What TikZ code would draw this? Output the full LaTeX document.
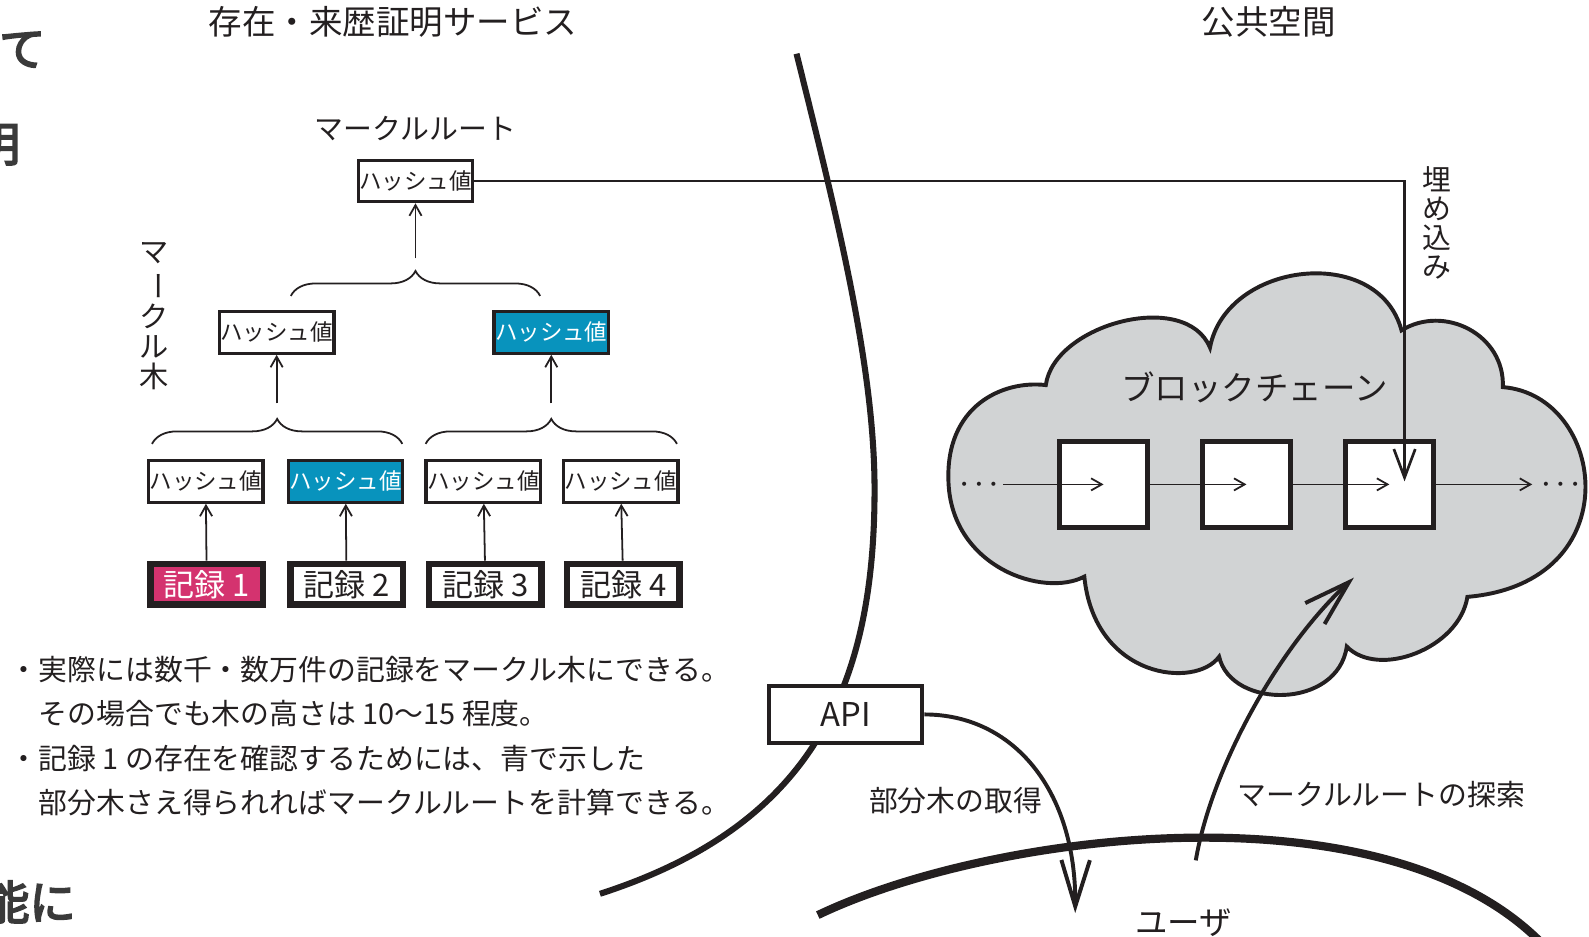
\documentclass[tikz,border=0pt]{standalone}
\usepackage{fontspec}
\usepackage{graphicx}
\setmainfont{Noto Sans CJK JP}
\newfontfamily\fragfont{Noto Sans CJK JP}[FakeBold=4]
\usetikzlibrary{arrows.meta,decorations.pathreplacing}

\definecolor{inkblack}{HTML}{231F20}
\definecolor{pathblue}{HTML}{0893BD}
\definecolor{recpink}{HTML}{D4336F}
\definecolor{cloudgray}{HTML}{D1D3D4}
\definecolor{fraggray}{HTML}{3A3A3A}

\tikzset{
  hashbox/.style={draw=inkblack, line width=0.9pt, fill=white, minimum width=1.13cm,
    minimum height=0.41cm, inner sep=0pt, font=\fontsize{6.3}{7}\selectfont},
  pathbox/.style={hashbox, fill=pathblue, text=white},
  recbox/.style={draw=inkblack, line width=1.8pt, fill=white, minimum width=1.11cm,
    minimum height=0.40cm, inner sep=0pt, font=\fontsize{8.7}{9}\selectfont},
  blockbox/.style={draw=inkblack, line width=1.5pt, fill=white, minimum width=0.87cm,
    minimum height=0.85cm, inner sep=0pt},
  apibox/.style={draw=inkblack, line width=1.2pt, fill=white, minimum width=1.51cm,
    minimum height=0.56cm, inner sep=0pt, font=\fontsize{9.2}{10}\selectfont},
  heading/.style={inner sep=0pt, font=\fontsize{9.4}{10}\selectfont},
  label/.style={inner sep=0pt, font=\fontsize{8.1}{9}\selectfont},
  vlabel/.style={inner sep=0pt, align=center, font=\fontsize{8.1}{8.2}\selectfont},
  fragtext/.style={inner sep=0pt, text=fraggray, font=\fragfont\fontsize{13}{14}\selectfont},
  dotsnode/.style={inner sep=0pt, font=\fontsize{6.6}{7}\selectfont\boldmath},
  tarrow/.style={draw=inkblack, line width=0.5pt, -{Straight Barb[length=3pt,width=3.4pt]}},
  embarrow/.style={draw=inkblack, line width=0.75pt, -{Straight Barb[length=8pt,width=6pt]}},
  bigarrow/.style={draw=inkblack, line width=1.1pt, -{Straight Barb[length=13pt,width=8pt]}},
  treebrace/.style={draw=inkblack, line width=0.5pt, decorate,
    decoration={brace, amplitude=7pt}},
}

\begin{document}
\begin{tikzpicture}[x=0.01cm, y=-0.01cm, text=inkblack]
  % Frame
  \useasboundingbox (0,0) rectangle (1568,924);

  % Page text cut off at the left edge
  \node[fragtext] (fragA) at (22,49) {て};
  \node[fragtext] (fragB) at (-3,143) {明};
  \node[fragtext] (fragC) at (29,890) {能に};

  % Headings
  \node[heading] (svc) at (388,22) {存在・来歴証明サービス};
  \node[heading] (pub) at (1252,22) {公共空間};

  % Boundary of the service
  \draw[inkblack, line width=1.7pt] (786,53) .. controls (825,210) and (863,360) .. (863,483)
    .. controls (863,680) and (800,815) .. (592,882);

  % Boundary of the user
  \draw[inkblack, line width=2.3pt] (807,903) .. controls (980,820) and (1380,770) .. (1530,940);

  % Merkle tree
  \node[label] (mrlbl) at (410,127) {マークルルート};
  \node[hashbox] (root) at (410,178.5) {ハッシュ値};
  \node[vlabel, font=\fontsize{8.2}{8.3}\selectfont] (treelbl) at (152,312)
    {マ\\\rotatebox[origin=c]{-90}{ー}\\ク\\ル\\木};

  \node[hashbox] (h1L) at (273,328) {ハッシュ値};
  \node[pathbox] (h1R) at (544,328) {ハッシュ値};

  \node[hashbox] (h0a) at (203,475) {ハッシュ値};
  \node[pathbox] (h0b) at (341,475) {ハッシュ値};
  \node[hashbox] (h0c) at (477,475) {ハッシュ値};
  \node[hashbox] (h0d) at (612.5,475) {ハッシュ値};

  \node[recbox, fill=recpink, text=white] (r1) at (204,576.5) {記録 1};
  \node[recbox] (r2) at (342,576.5) {記録 2};
  \node[recbox] (r3) at (479,576.5) {記録 3};
  \node[recbox] (r4) at (615,576.5) {記録 4};

  % Braces
  \draw[treebrace] (287,292) -- (533,292);
  \draw[treebrace] (150,438) -- (397,438);
  \draw[treebrace] (420,438) -- (668,438);
  \coordinate (tipT) at (410,255);
  \coordinate (tipL) at (273,398);
  \coordinate (tipR) at (544,398);

  % Tree arrows
  \draw[tarrow] (r1) -- (h0a);
  \draw[tarrow] (r2) -- (h0b);
  \draw[tarrow] (r3) -- (h0c);
  \draw[tarrow] (r4) -- (h0d);
  \draw[tarrow] (tipL) -- (h1L);
  \draw[tarrow] (tipR) -- (h1R);
  \draw[tarrow] (tipT) -- (root);

  % Notes
  \node[label, anchor=base west, align=left, font=\fontsize{8.1}{12.5}\selectfont] (notes) at (9,803)
    {・実際には数千・数万件の記録をマークル木にできる。\\
     \hspace*{1em}その場合でも木の高さは 10〜15 程度。\\
     ・記録 1 の存在を確認するためには、青で示した\\
     \hspace*{1em}部分木さえ得られればマークルルートを計算できる。};

  % Blockchain cloud
  \draw[inkblack, line width=1.1pt, fill=cloudgray]
    (1032,380) .. controls (1040,320) and (1170,285) .. (1194,343)
    .. controls (1210,258) and (1360,240) .. (1383,326)
    .. controls (1425,300) and (1485,330) .. (1483,382)
    .. controls (1585,390) and (1610,575) .. (1448,589)
    .. controls (1440,640) and (1360,670) .. (1329,638)
    .. controls (1320,700) and (1215,700) .. (1203,648)
    .. controls (1180,680) and (1080,670) .. (1070,569)
    .. controls (1030,590) and (940,560) .. (936,477)
    .. controls (932,400) and (990,375) .. cycle;
  \node[heading] (bclbl) at (1238,382) {ブロックチェーン};

  % Blocks
  \node[blockbox] (blk1) at (1089,478) {};
  \node[blockbox] (blk2) at (1230,478) {};
  \node[blockbox] (blk3) at (1371,478) {};
  \node[dotsnode] (dotsL) at (966,478) {$\cdots$};
  \node[dotsnode] (dotsR) at (1540,478) {$\cdots$};
  \coordinate (chainL) at (990,478);
  \coordinate (chainR) at (1512,478);
  \draw[tarrow] (chainL) -- (blk1.center);
  \draw[tarrow] (blk1.east) -- (blk2.center);
  \draw[tarrow] (blk2.east) -- (blk3.center);
  \draw[tarrow] (blk3.east) -- (chainR);

  % Embedding the root
  \coordinate (embtip) at (1386,475);
  \draw[embarrow] (root.east) -| (embtip);
  \node[vlabel] (emblbl) at (1418,220) {埋\\め\\込\\み};

  % API
  \node[apibox] (api) at (834.5,705) {API};
  \coordinate (usrdn) at (1061,901);
  \draw[bigarrow] (api.east) .. controls (1000,705) and (1062,780) .. (usrdn);
  \node[label] (getlbl) at (943,790) {部分木の取得};

  % Search
  \coordinate (usrup) at (1180,849);
  \coordinate (srchtip) at (1336,570);
  \draw[bigarrow] (usrup) .. controls (1195,760) and (1260,640) .. (srchtip);
  \node[label] (srchlbl) at (1363,784) {マークルルートの探索};

  % User
  \node[heading, font=\fontsize{9.1}{10}\selectfont] (usr) at (1168,910) {ユーザ};
\end{tikzpicture}
\end{document}
